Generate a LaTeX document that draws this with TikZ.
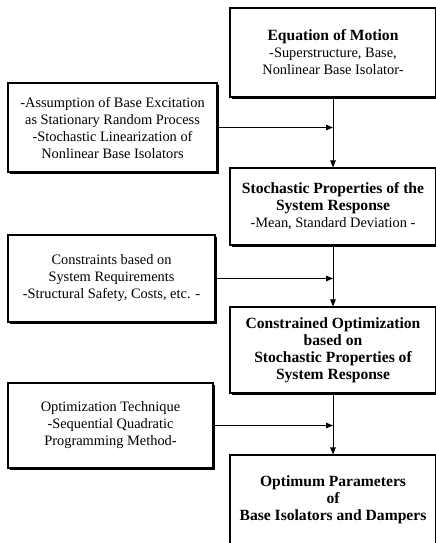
\documentclass[tikz,border=0pt]{standalone}
\usepackage{fontspec}
\setmainfont{Liberation Serif}
\usetikzlibrary{arrows.meta,shadows}

\tikzset{
  stepbox/.style={draw, line width=1.1pt, fill=white, align=center, inner sep=2pt,
    font=\fontsize{14.4}{17}\selectfont,
    drop shadow={shadow xshift=1.8pt, shadow yshift=-1.8pt, fill=black, opacity=1}},
  flow/.style={-{Triangle[length=7pt,width=5.5pt]}, line width=0.9pt},
}
\newcommand{\hd}[1]{{\fontsize{15.6}{18}\selectfont\bfseries #1}}

\begin{document}
\begin{tikzpicture}[x=1pt,y=-1pt]
\useasboundingbox (0,0) rectangle (436,543);

% main chain (right column)
\node[stepbox, minimum width=206pt, minimum height=89pt] (eq) at (333,52.5)
  {\hd{Equation of Motion}\\-Superstructure, Base,\\Nonlinear Base Isolator-};
\node[stepbox, minimum width=206pt, minimum height=77pt] (resp) at (333,206.5)
  {\hd{Stochastic Properties of the}\\\hd{System Response}\\-Mean, Standard Deviation -};
\node[stepbox, minimum width=206pt, minimum height=86pt] (opt) at (333,350)
  {\hd{Constrained Optimization}\\\hd{based on}\\\hd{Stochastic Properties of}\\\hd{System Response}};
\node[stepbox, minimum width=206pt, minimum height=90pt] (res) at (333,500)
  {\hd{Optimum Parameters}\\\hd{of}\\\hd{Base Isolators and Dampers}};

% inputs (left column)
\node[stepbox, minimum width=209pt, minimum height=89pt] (assume) at (112.5,127.5)
  {-Assumption of Base Excitation\\as Stationary Random Process\\-Stochastic Linearization of\\Nonlinear Base Isolators};
\node[stepbox, minimum width=207pt, minimum height=87pt] (cons) at (111.5,278.5)
  {Constraints based on\\System Requirements\\-Structural Safety, Costs, etc. -};
\node[stepbox, minimum width=205pt, minimum height=85pt] (tech) at (110.5,425.5)
  {Optimization Technique\\-Sequential Quadratic\\Programming Method-};

% connectors
\draw[flow] (eq.south) -- (resp.north);
\draw[flow] (resp.south) -- (opt.north);
\draw[flow] (opt.south) -- (res.north);
\draw[flow] (assume.east) -- (assume.east -| eq.south);
\draw[flow] (cons.east) -- (cons.east -| resp.south);
\draw[flow] (tech.east) -- (tech.east -| opt.south);

\end{tikzpicture}
\end{document}
